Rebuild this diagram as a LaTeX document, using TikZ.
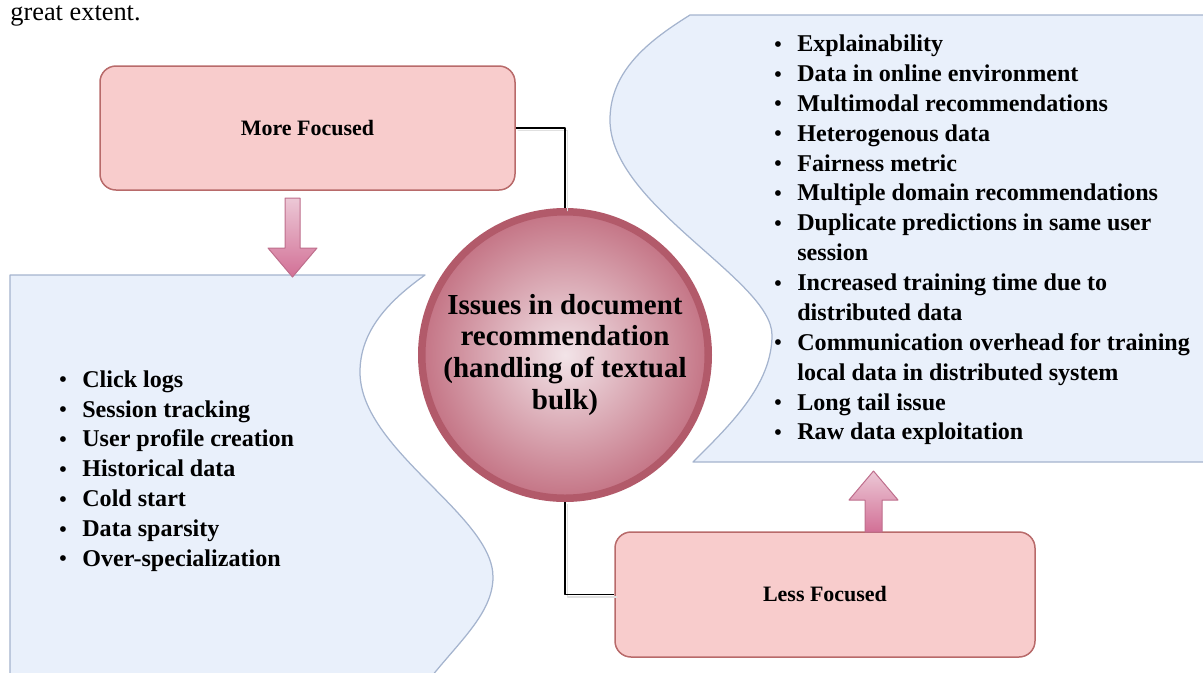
\documentclass[tikz,border=0pt]{standalone}
\usepackage{fontspec}
\setmainfont{Liberation Serif}

\definecolor{boxfill}{RGB}{248,204,204}
\definecolor{boxline}{RGB}{184,106,106}
\definecolor{wavefill}{RGB}{233,240,251}
\definecolor{waveline}{RGB}{165,180,206}
\definecolor{ringline}{RGB}{178,90,106}
\definecolor{ballin}{RGB}{242,228,232}
\definecolor{ballout}{RGB}{196,116,133}
\definecolor{arrtop}{RGB}{236,200,214}
\definecolor{arrbot}{RGB}{210,112,150}
\definecolor{arrline}{RGB}{190,110,140}

\begin{document}
\begin{tikzpicture}[line cap=round,line join=round,every node/.style={inner sep=0pt,font=\bfseries},
  focusbox/.style={draw=boxline,fill=boxfill,line width=0.03cm,rounded corners=0.32cm,
    minimum width=8.30cm,minimum height=2.48cm,font=\bfseries\fontsize{12.5}{15}\selectfont},
  wave/.style={draw=waveline,fill=wavefill,line width=0.025cm},
  blockarrow/.style={draw=arrline,line width=0.02cm,top color=arrtop,bottom color=arrbot},
  link/.style={draw=black,line width=0.03cm,line cap=butt,
    preaction={draw=black!12,line width=0.03cm,transform canvas={shift={(0.05,-0.05)}}}},
  itemlist/.style={anchor=west,align=left,font=\bfseries\fontsize{13.7}{17}\selectfont}]
  \def\bul{\makebox[0.46cm][l]{\raisebox{0.02em}{\fontsize{12}{12}\selectfont\textbullet}}}
  \def\ind{\hspace*{0.46cm}}
  \useasboundingbox (0,0) rectangle (24.06,-13.44);
  \clip (0,0) rectangle (24.06,-13.44);
  % 上文残留
  \node[anchor=base west,font=\fontsize{15}{15}\selectfont] (ctx) at (0.20,-0.40) {great extent.};
  % 左侧波形
  \draw[wave] (0.20,-5.50) -- (8.50,-5.50)
    .. controls (7.80,-6.00) and (7.20,-6.60) .. (7.20,-7.44)
    .. controls (7.20,-9.00) and (9.86,-10.30) .. (9.86,-11.54)
    .. controls (9.86,-12.30) and (9.10,-12.90) .. (8.50,-13.70)
    -- (0.20,-13.70) -- cycle;
  % 右侧波形
  \draw[wave] (13.80,-0.30) -- (24.40,-0.30) -- (24.40,-9.24) -- (13.86,-9.24)
    .. controls (14.60,-8.50) and (15.44,-7.70) .. (15.44,-6.70)
    .. controls (15.44,-5.60) and (12.20,-4.10) .. (12.20,-2.40)
    .. controls (12.20,-1.40) and (13.00,-0.80) .. (13.80,-0.30) -- cycle;
  % 方框
  \node[focusbox] (more) at (6.15,-2.56) {More Focused};
  \node[focusbox,minimum width=8.40cm,minimum height=2.50cm] (less) at (16.50,-11.89) {Less Focused};
  % 中心圆
  \node[circle,draw=ringline,line width=0.15cm,inner color=ballin,outer color=ballout,
    minimum size=5.73cm,align=center,font=\bfseries\fontsize{16.5}{18.2}\selectfont]
    (issue) at (11.30,-7.10) {Issues in document\\recommendation\\(handling of textual\\bulk)};
  % 连线
  \draw[link] (more.east) -| (issue.north);
  \draw[link] (issue.south) |- (less.west);
  % 块箭头
  \draw[blockarrow] (5.70,-3.96) -- (6.00,-3.96) -- (6.00,-4.96) -- (6.34,-4.96)
    -- (5.85,-5.54) -- (5.36,-4.96) -- (5.70,-4.96) -- cycle;
  \draw[blockarrow] (17.30,-10.64) -- (17.64,-10.64) -- (17.64,-10.00) -- (17.96,-10.00)
    -- (17.47,-9.42) -- (16.98,-10.00) -- (17.30,-10.00) -- cycle;
  % 列表
  \node[itemlist] (leftlist) at (1.18,-9.42) {\bul Click logs\\\bul Session tracking\\
    \bul User profile creation\\\bul Historical data\\\bul Cold start\\\bul Data sparsity\\
    \bul Over-specialization};
  \node[itemlist] (rightlist) at (15.48,-4.80) {\bul Explainability\\\bul Data in online environment\\
    \bul Multimodal recommendations\\\bul Heterogenous data\\\bul Fairness metric\\
    \bul Multiple domain recommendations\\\bul Duplicate predictions in same user\\\ind session\\
    \bul Increased training time due to\\\ind distributed data\\
    \bul Communication overhead for training\\\ind local data in distributed system\\
    \bul Long tail issue\\\bul Raw data exploitation};
\end{tikzpicture}
\end{document}
